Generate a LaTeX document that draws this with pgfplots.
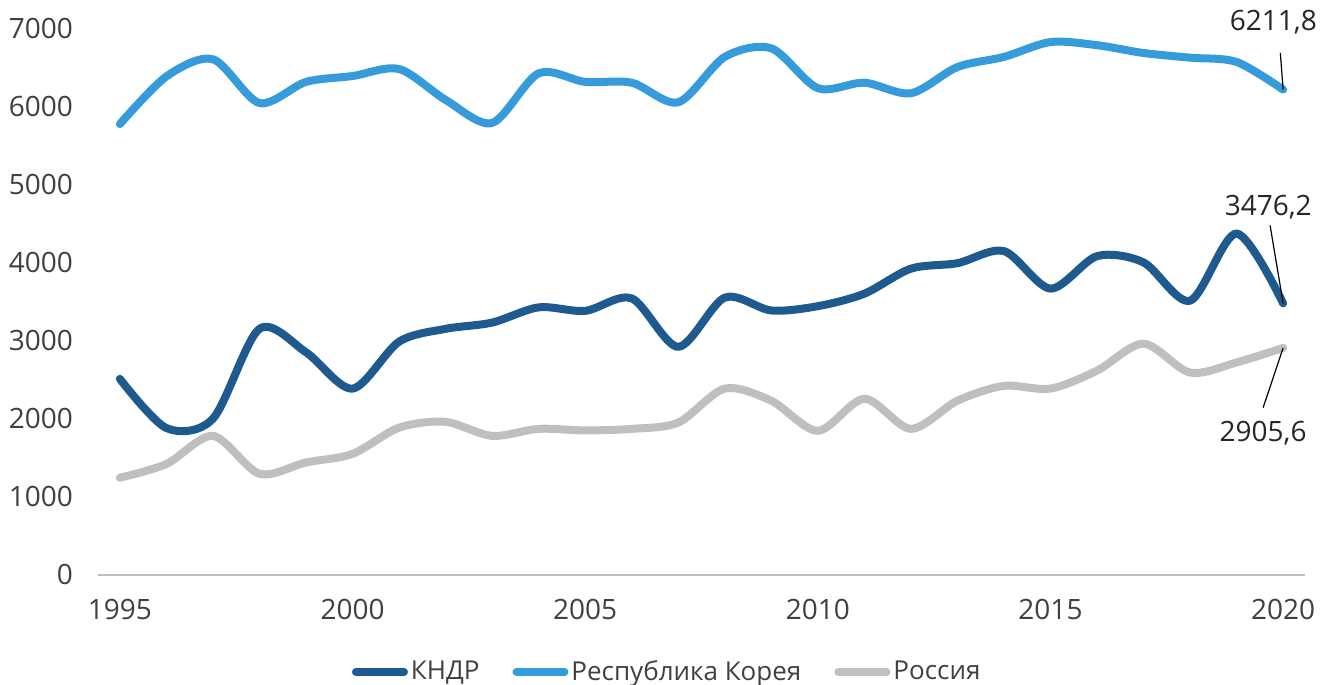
\documentclass[border=0pt]{standalone}
\usepackage{fontspec}
\setmainfont{Open Sans}
\usepackage{pgfplots}
\pgfplotsset{compat=1.18}
\definecolor{kndr}{HTML}{1F5A8E}
\definecolor{korea}{HTML}{369BDA}
\definecolor{russia}{HTML}{BFBFBF}
\definecolor{axisgray}{HTML}{BFBFBF}
\definecolor{txt}{HTML}{404040}
\definecolor{lbl}{HTML}{262626}
\begin{document}
\begin{tikzpicture}[font=\fontsize{14}{17}\selectfont]
\begin{axis}[
  scale only axis, width=603.5pt, height=273.5pt,
  xmin=1994.53, xmax=2020.47, ymin=0, ymax=7000,
  separate axis lines,
  axis x line*=bottom, axis y line*=left,
  x axis line style={axisgray, line width=1pt, -},
  y axis line style={draw=none},
  major tick length=0pt,
  xtick={1995,2000,...,2020}, ytick={0,1000,...,7000},
  tick label style={text=txt},
  /pgf/number format/1000 sep={},
  /pgf/number format/assume math mode=true,
  xticklabel style={yshift=-8.5pt},
  yticklabel style={xshift=-9pt},
  clip=false,
  legend style={at={(0.472,-0.177)}, anchor=center, draw=none, fill=none,
    legend columns=-1, text=txt, font=\fontsize{13}{16}\selectfont,
    nodes={inner xsep=1.5pt},
    /tikz/every even column/.append style={column sep=15pt}},
  legend image code/.code={\draw[#1, line width=4pt, line cap=round] (0pt,0pt) -- (24pt,0pt);},
  every axis plot/.append style={line width=4pt, smooth, line join=round, line cap=round},
]
\addplot[kndr] coordinates {
(1995,2510) (1996,1880) (1997,2000) (1998,3150) (1999,2850) (2000,2385)
(2001,2985) (2002,3150) (2003,3230) (2004,3425) (2005,3380) (2006,3540)
(2007,2920) (2008,3550) (2009,3385) (2010,3440) (2011,3600) (2012,3920)
(2013,3990) (2014,4145) (2015,3665) (2016,4080) (2017,4000) (2018,3510)
(2019,4370) (2020,3476.2)};
\addplot[korea] coordinates {
(1995,5770) (1996,6380) (1997,6600) (1998,6040) (1999,6310) (2000,6385)
(2001,6475) (2002,6080) (2003,5785) (2004,6420) (2005,6310) (2006,6300)
(2007,6050) (2008,6630) (2009,6740) (2010,6230) (2011,6300) (2012,6165)
(2013,6500) (2014,6630) (2015,6820) (2016,6780) (2017,6680) (2018,6620)
(2019,6565) (2020,6211.8)};
\addplot[russia] coordinates {
(1995,1245) (1996,1420) (1997,1780) (1998,1295) (1999,1440) (2000,1550)
(2001,1885) (2002,1960) (2003,1780) (2004,1870) (2005,1850) (2006,1870)
(2007,1950) (2008,2385) (2009,2230) (2010,1845) (2011,2255) (2012,1870)
(2013,2230) (2014,2420) (2015,2385) (2016,2615) (2017,2960) (2018,2590)
(2019,2720) (2020,2905.6)};
\legend{КНДР, Республика Корея, Россия}
\draw[black, line width=0.6pt] (axis cs:2019.94,6680) -- (axis cs:2020,6211.8);
\node[text=lbl] at (axis cs:2019.79,7077) {6211,8};
\draw[black, line width=0.6pt] (axis cs:2019.72,4474) -- (axis cs:2020,3476.2);
\node[text=lbl] at (axis cs:2019.68,4705) {3476,2};
\draw[black, line width=0.6pt] (axis cs:2019.57,2141) -- (axis cs:2020,2905.6);
\node[text=lbl] at (axis cs:2019.57,1820) {2905,6};
\coordinate (ll) at (rel axis cs:0,0);
\coordinate (ur) at (rel axis cs:1,1);
\end{axis}
\pgfresetboundingbox
\path[use as bounding box] ([xshift=-49pt,yshift=-55pt]ll) rectangle ([xshift=15pt,yshift=14pt]ur);
\end{tikzpicture}
\end{document}
